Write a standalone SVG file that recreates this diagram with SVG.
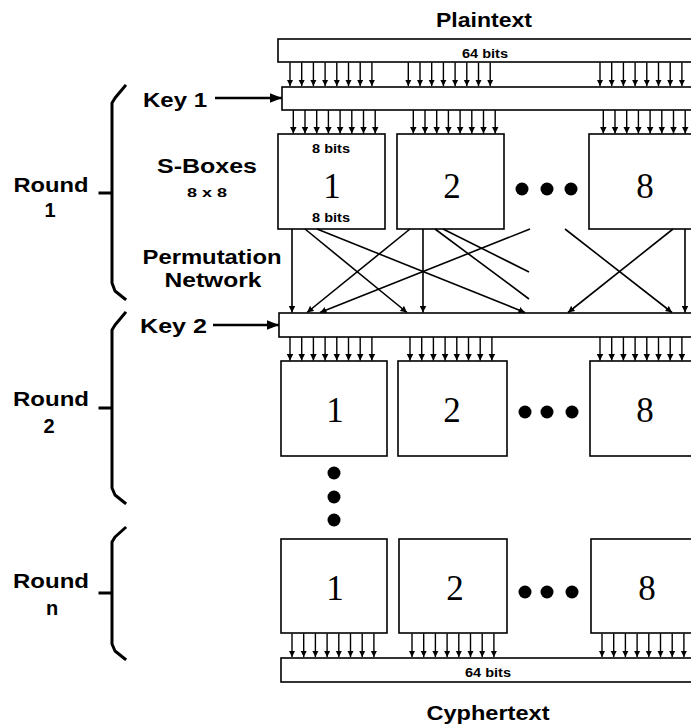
<svg xmlns="http://www.w3.org/2000/svg" xmlns:xlink="http://www.w3.org/1999/xlink" width="691" height="727" viewBox="0 0 691 727">
<style>
.bg{fill:#fff}
.bx{fill:#fff;stroke:#000;stroke-width:1.6}
.ln{stroke:#000;stroke-width:1.6;fill:none}
.ky{stroke:#000;stroke-width:2.4;fill:none}
.sm{stroke:#000;stroke-width:1.4;fill:none}
.br{stroke:#000;stroke-width:3;fill:none;stroke-linecap:square;stroke-linejoin:round}
.lb{font-family:"Liberation Sans",Arial,sans-serif;font-weight:bold;font-size:20px;fill:#000}
.sl{font-family:"Liberation Sans",Arial,sans-serif;font-weight:bold;font-size:12px;fill:#000}
.num{font-family:"Liberation Serif","Times New Roman",serif;font-size:35px;fill:#000;text-anchor:middle}
.dot{fill:#000}
</style>
<defs>
<marker id="ah" viewBox="0 0 8 8" refX="8" refY="4" markerWidth="6.5" markerHeight="7" markerUnits="userSpaceOnUse" orient="auto"><path d="M0,0 L8,4 L0,8 z" fill="#000"/></marker>
<marker id="ahb" viewBox="0 0 10 8" refX="10" refY="4" markerWidth="12" markerHeight="10" markerUnits="userSpaceOnUse" orient="auto"><path d="M0,0 L10,4 L0,8 z" fill="#000"/></marker>
<g id="a8" class="sm" marker-end="url(#ah)">
<line x1="0" y1="0" x2="0" y2="23.5"/>
<line x1="11.7" y1="0" x2="11.7" y2="23.5"/>
<line x1="23.4" y1="0" x2="23.4" y2="23.5"/>
<line x1="35.1" y1="0" x2="35.1" y2="23.5"/>
<line x1="46.8" y1="0" x2="46.8" y2="23.5"/>
<line x1="58.5" y1="0" x2="58.5" y2="23.5"/>
<line x1="70.2" y1="0" x2="70.2" y2="23.5"/>
<line x1="81.9" y1="0" x2="81.9" y2="23.5"/>
</g>
</defs>
<rect class="bg" x="0" y="0" width="691" height="727"/>

<g id="plaintext">
<text class="lb" x="484" y="27" text-anchor="middle" textLength="96" lengthAdjust="spacingAndGlyphs">Plaintext</text>
</g>
<g id="input-bar">
<rect class="bx" x="278" y="39" width="430" height="23"/>
<text class="sl" x="485" y="58" text-anchor="middle" textLength="46" lengthAdjust="spacingAndGlyphs">64 bits</text>
</g>

<g id="key1">
<text class="lb" x="143" y="107" textLength="64" lengthAdjust="spacingAndGlyphs">Key 1</text>
</g>
<g id="key1-bar">
<rect class="bx" x="282" y="87" width="426" height="23"/>
</g>

<g id="round1-label">
<text class="lb" x="51" y="192" text-anchor="middle" textLength="75" lengthAdjust="spacingAndGlyphs">Round</text>
<text class="lb" x="50" y="217" text-anchor="middle">1</text>
<path class="br" d="M125,86 L115,98 L112,103 V283 L115,291 L125,299 M100,193 H112"/>
</g>
<g id="sboxes-label">
<text class="lb" x="207" y="173" text-anchor="middle" textLength="100" lengthAdjust="spacingAndGlyphs">S-Boxes</text>
<text class="sl" x="207" y="197" text-anchor="middle" font-size="13" textLength="40" lengthAdjust="spacingAndGlyphs">8 x 8</text>
</g>
<g id="perm-label">
<text class="lb" x="212" y="264" text-anchor="middle" textLength="139" lengthAdjust="spacingAndGlyphs">Permutation</text>
<text class="lb" x="213" y="287" text-anchor="middle" textLength="97" lengthAdjust="spacingAndGlyphs">Network</text>
</g>

<g id="r1-box1">
<rect class="bx" x="278" y="134" width="107" height="95"/>
<text class="sl" x="331" y="153" text-anchor="middle" textLength="38" lengthAdjust="spacingAndGlyphs">8 bits</text>
<text class="num" x="332" y="198">1</text>
<text class="sl" x="331" y="222" text-anchor="middle" textLength="38" lengthAdjust="spacingAndGlyphs">8 bits</text>
</g>
<g id="r1-box2">
<rect class="bx" x="397" y="134" width="107" height="95"/>
<text class="num" x="452" y="198">2</text>
</g>
<g id="r1-dots">
<circle class="dot" cx="522" cy="189" r="6.5"/><circle class="dot" cx="547" cy="189" r="6.5"/><circle class="dot" cx="571" cy="189" r="6.5"/>
</g>
<g id="r1-box8">
<rect class="bx" x="589" y="134" width="107" height="95"/>
<text class="num" x="645" y="198">8</text>
</g>

<g id="key2">
<text class="lb" x="140" y="333" textLength="67" lengthAdjust="spacingAndGlyphs">Key 2</text>
</g>
<g id="key2-bar">
<rect class="bx" x="279" y="313" width="430" height="24"/>
</g>

<g id="round2-label">
<text class="lb" x="51" y="406" text-anchor="middle" textLength="76" lengthAdjust="spacingAndGlyphs">Round</text>
<text class="lb" x="49" y="433" text-anchor="middle">2</text>
<path class="br" d="M125,313 L115,325 L112,330 V488 L115,495 L125,503 M100,408 H112"/>
</g>
<g id="r2-box1">
<rect class="bx" x="281" y="361" width="106" height="95"/>
<text class="num" x="335" y="422">1</text>
</g>
<g id="r2-box2">
<rect class="bx" x="398" y="361" width="109" height="95"/>
<text class="num" x="452" y="422">2</text>
</g>
<g id="r2-dots">
<circle class="dot" cx="525" cy="412" r="6.5"/><circle class="dot" cx="547" cy="412" r="6.5"/><circle class="dot" cx="572" cy="412" r="6.5"/>
</g>
<g id="r2-box8">
<rect class="bx" x="590" y="361" width="107" height="95"/>
<text class="num" x="645" y="422">8</text>
</g>

<g id="vdots">
<circle class="dot" cx="334" cy="473" r="6.5"/><circle class="dot" cx="334" cy="497" r="6.5"/><circle class="dot" cx="334" cy="520" r="6.5"/>
</g>

<g id="roundn-label">
<text class="lb" x="51" y="588" text-anchor="middle" textLength="76" lengthAdjust="spacingAndGlyphs">Round</text>
<text class="lb" x="52" y="615" text-anchor="middle">n</text>
<path class="br" d="M125,528 L115,537 L112,542 V644 L115,651 L125,659 M100,593 H112"/>
</g>
<g id="rn-box1">
<rect class="bx" x="281" y="539" width="106" height="94"/>
<text class="num" x="335" y="600">1</text>
</g>
<g id="rn-box2">
<rect class="bx" x="399" y="539" width="108" height="94"/>
<text class="num" x="455" y="600">2</text>
</g>
<g id="rn-dots">
<circle class="dot" cx="525" cy="592" r="6.5"/><circle class="dot" cx="547" cy="592" r="6.5"/><circle class="dot" cx="572" cy="592" r="6.5"/>
</g>
<g id="rn-box8">
<rect class="bx" x="591" y="539" width="107" height="94"/>
<text class="num" x="647" y="600">8</text>
</g>

<g id="output-bar">
<rect class="bx" x="281" y="658" width="430" height="24"/>
<text class="sl" x="488" y="677" text-anchor="middle" textLength="46" lengthAdjust="spacingAndGlyphs">64 bits</text>
</g>
<g id="cyphertext">
<text class="lb" x="488" y="720" text-anchor="middle" textLength="123" lengthAdjust="spacingAndGlyphs">Cyphertext</text>
</g>

<g id="connectors">
<line class="ky" x1="215" y1="98" x2="282" y2="98" marker-end="url(#ahb)"/>
<line class="ky" x1="213" y1="325" x2="279" y2="325" marker-end="url(#ahb)"/>

<use xlink:href="#a8" x="290" y="62.5"/>
<use xlink:href="#a8" x="408.3" y="62.5"/>
<use xlink:href="#a8" x="600" y="62.5"/>

<use xlink:href="#a8" x="293.3" y="110"/>
<use xlink:href="#a8" x="413.3" y="110"/>
<use xlink:href="#a8" x="603.3" y="110"/>

<use xlink:href="#a8" x="290" y="337"/>
<use xlink:href="#a8" x="410" y="337"/>
<use xlink:href="#a8" x="600" y="337"/>

<use xlink:href="#a8" x="292" y="633.5"/>
<use xlink:href="#a8" x="412" y="633.5"/>
<use xlink:href="#a8" x="602" y="633.5"/>

<g class="ln" marker-end="url(#ah)">
<line x1="292" y1="229" x2="292" y2="312.5"/>
<line x1="305" y1="229" x2="407" y2="312.5"/>
<line x1="317" y1="229" x2="525" y2="312.5"/>
<line x1="410" y1="229" x2="307" y2="312.5"/>
<line x1="423" y1="229" x2="423" y2="312.5"/>
<line x1="530" y1="229" x2="320" y2="312.5"/>
<line x1="565" y1="229" x2="672" y2="312.5"/>
<line x1="673" y1="229" x2="568" y2="312.5"/>
<line x1="685" y1="229" x2="685" y2="312.5"/>
</g>
<line class="ln" x1="435" y1="229" x2="529" y2="299"/>
<line class="ln" x1="443" y1="229" x2="529" y2="272"/>
</g>
</svg>
